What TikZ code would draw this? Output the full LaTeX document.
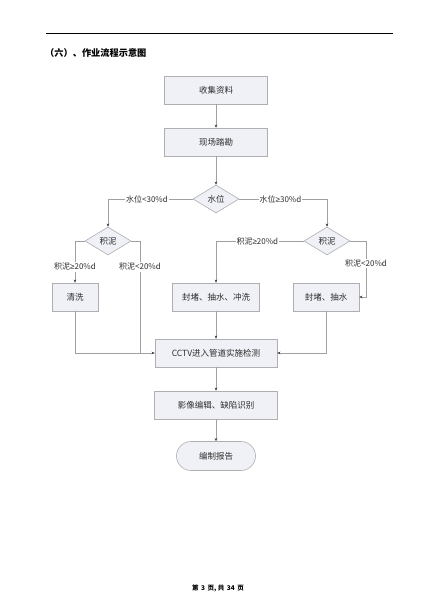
\documentclass[tikz,border=0pt]{standalone}
\usepackage{fontspec}
\setmainfont{Noto Sans CJK SC}
\newfontfamily\symf{Liberation Sans}
\newcommand{\myge}{{\symf ≥}}
\usetikzlibrary{shapes.geometric,shapes.misc,arrows.meta}
\definecolor{boxfill}{RGB}{239,241,246}
\definecolor{boxline}{RGB}{175,175,178}
\definecolor{conn}{RGB}{160,160,160}
\definecolor{txt}{RGB}{45,45,45}
\tikzset{
  stepbox/.style={draw=boxline, fill=boxfill, line width=0.6pt, minimum height=28pt, inner sep=0pt, text=txt, font=\fontsize{8.5}{10}\selectfont},
  decide/.style={diamond, draw=boxline, fill=boxfill, line width=0.6pt, aspect=1.6, inner sep=0pt, minimum width=46pt, minimum height=28pt, text=txt, font=\fontsize{8.5}{10}\selectfont},
  endbox/.style={rounded rectangle, draw=boxline, fill=boxfill, line width=0.6pt, minimum width=79pt, minimum height=29pt, inner sep=0pt, text=txt, font=\fontsize{8.5}{10}\selectfont},
  link/.style={draw=conn, line width=0.6pt},
  arrow/.style={link, -{Stealth[length=3pt,width=2.6pt,color=black!80]}},
  lbl/.style={fill=white, inner sep=1pt, text=txt, font=\fontsize{8}{9}\selectfont},
}
\begin{document}
\begin{tikzpicture}[x=1pt,y=-1pt]
\path[use as bounding box, fill=white] (0,0) rectangle (435,615);
\draw[line width=0.8pt] (46,33) -- (393,33);
\node[anchor=west, inner sep=0pt, font=\fontsize{9.2}{10}\selectfont\bfseries] (title) at (45,53) {（六）、作业流程示意图};

\node[stepbox, minimum width=103pt] (a) at (216,90) {收集资料};
\node[stepbox, minimum width=103pt] (b) at (216,142) {现场踏勘};
\node[decide] (d1) at (216,199) {水位};
\node[decide] (d2) at (108,241) {积泥};
\node[decide] (d3) at (327,241) {积泥};
\node[stepbox, minimum width=46pt] (qx) at (75,297) {清洗};
\node[stepbox, minimum width=87pt] (fx) at (216,297) {封堵、抽水、冲洗};
\node[stepbox, minimum width=66pt] (fc) at (326,297) {封堵、抽水};
\node[stepbox, minimum width=122pt] (cctv) at (216,353) {CCTV进入管道实施检测};
\node[stepbox, minimum width=123pt] (yx) at (216,405) {影像编辑、缺陷识别};
\node[endbox] (bg) at (216,456) {编制报告};

\coordinate (j) at (140,353);
\coordinate (k) at (366,297);

\draw[arrow] (a) -- (b);
\draw[arrow] (b) -- (d1);
\draw[arrow] (d1.west) -| node[lbl, pos=0.27] {水位<30\%d} (d2.north);
\draw[arrow] (d1.east) -| node[lbl, pos=0.235] {水位\myge30\%d} (d3.north);
\draw[arrow] (d2.west) -| node[lbl, pos=0.81] {积泥\myge20\%d} (qx.north);
\draw[link] (d2.east) -| node[lbl, pos=0.616] {积泥<20\%d} (j);
\draw[arrow] (d3.west) -| node[lbl, pos=0.264] {积泥\myge20\%d} (fx.north);
\draw[arrow] (d3.east) -| node[lbl, pos=0.70] {积泥<20\%d} (k) -- (fc.east);
\draw[arrow] (qx.south) |- (cctv.west);
\draw[arrow] (fx) -- (cctv);
\draw[arrow] (fc.south) |- (cctv.east);
\draw[arrow] (cctv) -- (yx);
\draw[arrow] (yx) -- (bg);

\node[font=\fontsize{6.5}{8}\selectfont\bfseries] (foot) at (218,588) {第\hspace{2.5pt}3\hspace{2.5pt}页, 共\hspace{2.5pt}34\hspace{2.5pt}页};
\end{tikzpicture}
\end{document}
